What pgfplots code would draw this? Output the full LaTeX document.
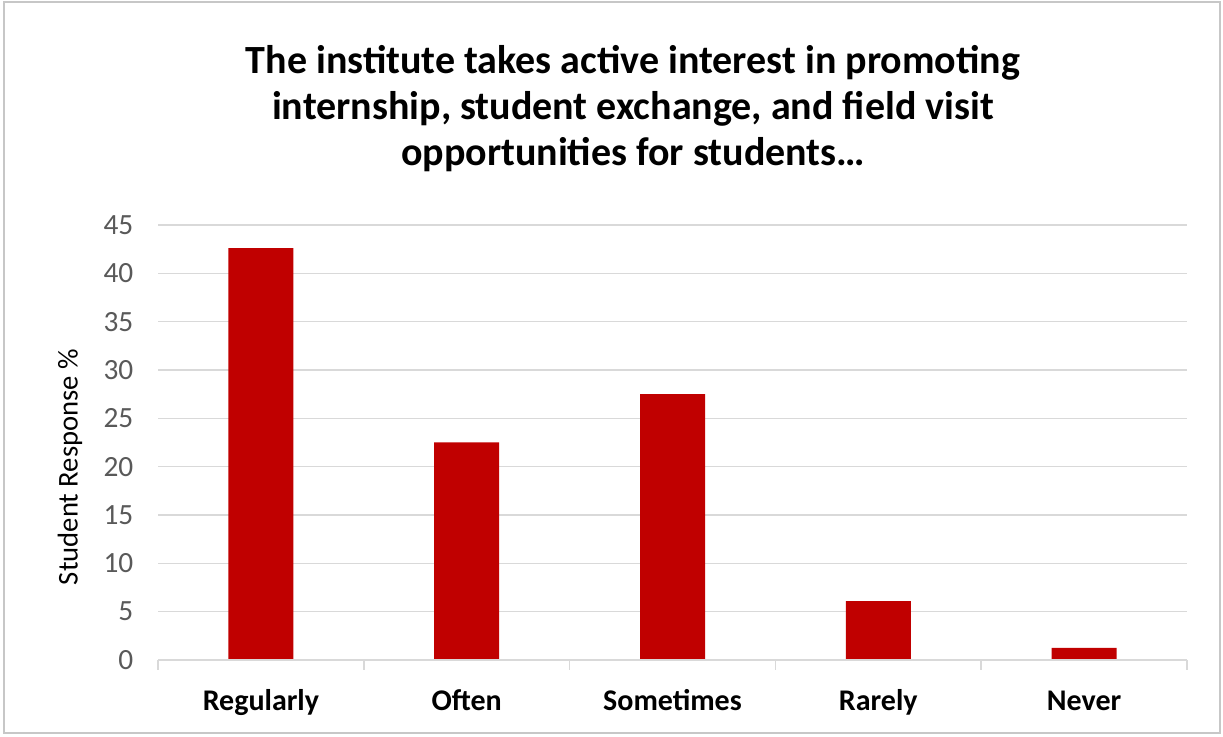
\documentclass[border=0pt]{standalone}
\usepackage{pgfplots}
\pgfplotsset{compat=1.18}
\usepackage{fontspec}
\setmainfont{Carlito}
\definecolor{barred}{HTML}{C00000}
\definecolor{gridgray}{HTML}{D9D9D9}
\definecolor{ticktext}{HTML}{595959}
\begin{document}
\begin{tikzpicture}
\path[use as bounding box] (-118.5pt,-57.75pt) rectangle (798.75pt,495pt);
\draw[gridgray!80!gray, line width=1.2pt] (-115.5pt,-54.75pt) rectangle (796.5pt,493.5pt);
\begin{axis}[
  at={(0pt,0pt)}, anchor=south west,
  scale only axis,
  width=771.75pt, height=326.25pt,
  xmin=-0.5, xmax=4.5, ymin=0, ymax=45,
  ytick={0,5,...,45},
  xtick={0,1,2,3,4},
  xticklabels={Regularly,Often,Sometimes,Rarely,Never},
  minor xtick={-0.5,0.5,1.5,2.5,3.5,4.5},
  xtick pos=bottom, ytick pos=left,
  axis line style={draw=none},
  ymajorgrids,
  grid style={gridgray, line width=1.2pt},
  major tick length=0pt,
  minor tick length=7.5pt,
  tick align=outside,
  minor tick style={gridgray, line width=1.2pt},
  minor x grid style={draw=none},
  xticklabel style={font=\fontsize{22.5}{26}\selectfont\bfseries, text=black, text height=16pt, text depth=5pt, yshift=-18pt},
  yticklabel style={font=\fontsize{22}{24}\selectfont, text=ticktext, xshift=-15pt},
  /pgf/number format/assume math mode=true,
  ybar, bar width=48.75pt,
  clip=false,
]
\addplot[fill=barred, draw=none] coordinates {(0,42.6) (1,22.5) (2,27.5) (3,6.1) (4,1.25)};
\draw[gridgray, line width=1.2pt] (axis cs:-0.5,0) -- (axis cs:4.5,0);
\end{axis}
\node[font=\fontsize{30}{34.5}\selectfont\bfseries, align=center, anchor=center] at (356.25pt,413.6pt)
  {The institute takes active interest in promoting\\internship, student exchange, and field visit\\opportunities for students\dots};
\node[font=\fontsize{21.5}{24}\selectfont, rotate=90, anchor=center] at (-66pt,144.75pt) {Student Response \%};
\end{tikzpicture}
\end{document}
